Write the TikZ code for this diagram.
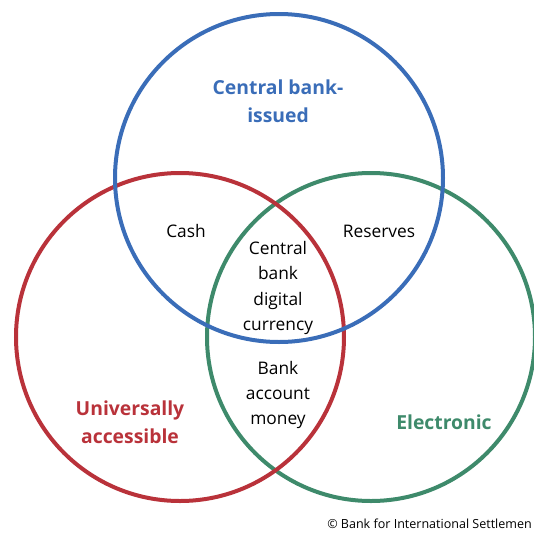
\documentclass[tikz,border=0pt]{standalone}
\usepackage{fontspec}
\setmainfont{Open Sans}
\usepackage{xcolor}
\usepackage{tikz}
\usetikzlibrary{positioning}
\definecolor{cbblue}{HTML}{3A6DB8}
\definecolor{cbred}{HTML}{B9323A}
\definecolor{cbgreen}{HTML}{3E8A6B}

\begin{document}
\begin{tikzpicture}[
    x=0.75pt, y=-0.75pt,
    ring/.style={circle, draw=#1, line width=3pt, minimum size=246pt, inner sep=0pt},
    region/.style={align=center, font=\fontsize{13}{19}\selectfont, text=black},
    setname/.style={align=center, font=\fontsize{14.5}{21}\selectfont\bfseries, text=#1},
    credit/.style={font=\fontsize{9.4}{11}\selectfont, text=black}
]
\useasboundingbox (0,0) rectangle (534,536);

% Circles
\node[ring=cbgreen] (electronic) at (371,337) {};
\node[ring=cbred] (universal) at (180,337) {};
\node[ring=cbblue] (issued) at (279,178) {};

% Set names
\node[setname=cbblue] (issuedlbl) at (278,101) {Central bank-\\issued};
\node[setname=cbred] (universallbl) at (130,422) {Universally\\accessible};
\node[setname=cbgreen] (electroniclbl) at (444,422) {Electronic};

% Overlaps
\node[region] (cash) at (186,231) {Cash};
\node[region] (reserves) at (379,231) {Reserves};
\node[region] (cbdc) at (278,288) {Central\\bank\\digital\\currency};
\node[region] (bankmoney) at (278,395) {Bank\\account\\money};

% Source
\node[credit, anchor=base west, inner sep=0pt] (source) at (327,528) {© Bank for International Settlemen};

\end{tikzpicture}
\end{document}
